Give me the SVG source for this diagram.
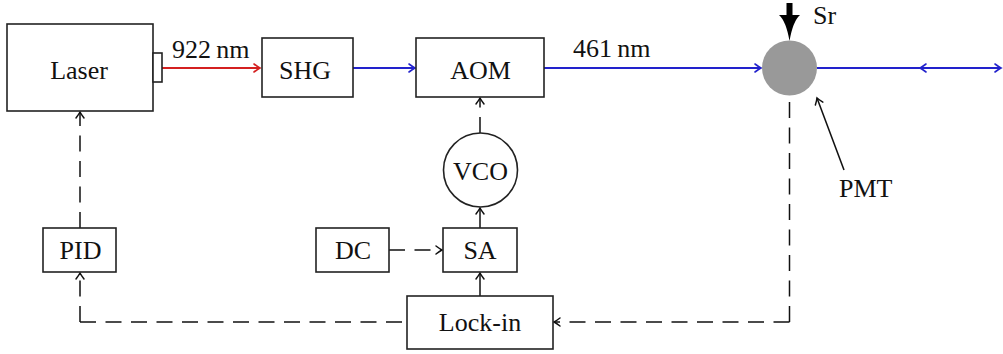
<svg xmlns="http://www.w3.org/2000/svg" width="1003" height="354" viewBox="0 0 1003 354">
<style>
.box{fill:#fff;stroke:#222;stroke-width:1.6}
.t{font-family:"Liberation Serif","Times New Roman",serif;font-size:26px;fill:#111}
.c{text-anchor:middle}
.k{fill:none;stroke:#111;stroke-width:1.5}
.d{stroke-dasharray:16 9.5}
.blue{fill:none;stroke:#2222cc;stroke-width:1.8}
.red{fill:none;stroke:#d42020;stroke-width:1.8}
</style>
<defs>
<marker id="ak" markerUnits="userSpaceOnUse" markerWidth="14" markerHeight="14" viewBox="-8 -7 10 14" refX="0" refY="0" orient="auto" overflow="visible">
<path d="M-6,-4 Q-2,-1 0,0 Q-2,1 -6,4" fill="none" stroke="#111" stroke-width="1.5" stroke-linecap="round"/>
</marker>
<marker id="ab" markerUnits="userSpaceOnUse" markerWidth="14" markerHeight="14" viewBox="-8 -7 10 14" refX="0" refY="0" orient="auto" overflow="visible">
<path d="M-6,-4 Q-2,-1 0,0 Q-2,1 -6,4" fill="none" stroke="#2222cc" stroke-width="1.6" stroke-linecap="round"/>
</marker>
<marker id="ar" markerUnits="userSpaceOnUse" markerWidth="14" markerHeight="14" viewBox="-8 -7 10 14" refX="0" refY="0" orient="auto" overflow="visible">
<path d="M-6,-4 Q-2,-1 0,0 Q-2,1 -6,4" fill="none" stroke="#d42020" stroke-width="1.6" stroke-linecap="round"/>
</marker>
</defs>
<rect width="1003" height="354" fill="#fff"/>

<g id="connectors">
<path class="red" d="M162,68 H260" marker-end="url(#ar)"/>
<path class="blue" d="M353,68 H415" marker-end="url(#ab)"/>
<path class="blue" d="M544,68 H761" marker-end="url(#ab)"/>
<path class="blue" d="M817,68 H1001" marker-end="url(#ab)"/>
<path class="blue" d="M944,68 H920" marker-end="url(#ab)"/>
<path class="k d" d="M480,133 V98" marker-end="url(#ak)"/>
<path class="k" d="M480,228 V208" marker-end="url(#ak)"/>
<path class="k" d="M480,296 V273" marker-end="url(#ak)"/>
<path class="k d" d="M389,250 H442" marker-end="url(#ak)"/>
<path class="k d" d="M80,228 V112" marker-end="url(#ak)"/>
<path class="k d" d="M80,322 H407"/>
<path class="k d" d="M80,322 V273" marker-end="url(#ak)"/>
<path class="k d" d="M789.5,322 H554" marker-end="url(#ak)"/>
<path class="k d" d="M789.5,322 V96"/>
<path class="k" d="M844,170 L817,98" marker-end="url(#ak)"/>
<rect x="786.5" y="3" width="6" height="13" fill="#000"/>
<path d="M779,15 Q786,21 789.5,41 Q793,21 800,15 Z" fill="#000"/>
</g>

<g id="laser">
<rect class="box" x="7" y="24" width="146" height="87"/>
<rect class="box" x="153" y="53" width="9" height="29"/>
<text class="t c" x="79" y="79">Laser</text>
</g>
<g id="label-922">
<text class="t" x="172" y="58">922&#8201;nm</text>
</g>
<g id="shg">
<rect class="box" x="262" y="38" width="91" height="59"/>
<text class="t c" x="305" y="79">SHG</text>
</g>
<g id="aom">
<rect class="box" x="416" y="38" width="128" height="59"/>
<text class="t c" x="480.5" y="79">AOM</text>
</g>
<g id="label-461">
<text class="t" x="573" y="57">461&#8201;nm</text>
</g>
<g id="vco">
<circle cx="480.5" cy="170" r="37" fill="#fff" stroke="#222" stroke-width="1.6"/>
<text class="t c" x="480.5" y="180">VCO</text>
</g>
<g id="sa">
<rect class="box" x="443" y="228" width="74" height="44"/>
<text class="t c" x="480" y="259">SA</text>
</g>
<g id="dc">
<rect class="box" x="316" y="228" width="73" height="44"/>
<text class="t c" x="353" y="259">DC</text>
</g>
<g id="pid">
<rect class="box" x="43" y="228" width="73" height="44"/>
<text class="t c" x="80.5" y="259">PID</text>
</g>
<g id="lockin">
<rect class="box" x="407" y="296" width="146" height="53"/>
<text class="t c" x="480" y="331">Lock-in</text>
</g>
<g id="sr-cell">
<circle cx="789.5" cy="68" r="27.5" fill="#999"/>
<text class="t" x="813" y="23.5">Sr</text>
</g>
<g id="pmt">
<text class="t" x="839" y="197">PMT</text>
</g>
</svg>
